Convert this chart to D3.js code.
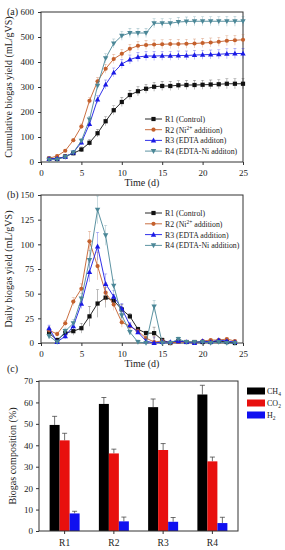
<!DOCTYPE html>
<html>
<head>
<meta charset="utf-8">
<script src="https://cdn.jsdelivr.net/npm/d3@7"></script>
<style>
  body { margin: 0; background: #fff; }
  svg text { font-family: "Liberation Serif", "DejaVu Serif", serif; fill: #222; }
</style>
</head>
<body>
<div id="root"></div>
<script>
// ---- data ----
const days = d3.range(1, 26);
const dailyDays = d3.range(1, 25);

const seriesNames = ["R1", "R2", "R3", "R4"];
const legendA = ["R1 (Control)", "R2 (Ni", "R3 (EDTA additon)", "R4 (EDTA-Ni additon)"];
const legendB = ["R1 (Control)", "R2 (Ni", "R3 (EDTA addition)", "R4 (EDTA-Ni addition)"];
const colors = ["#111111", "#c4602c", "#1a1ae6", "#4b8797"];
const symbols = ["square", "circle", "up", "down"];

// cumulative biogas yield (mL/gVS)
const cumR1 = [13, 12, 22, 35, 50, 77, 115, 163, 207, 240, 268, 283, 293, 301, 304, 304, 307, 308, 308, 309, 310, 311, 313, 313, 313];
const cumR2 = [15, 24, 45, 87, 142, 245, 323, 373, 412, 433, 453, 465, 468, 470, 471, 472, 472, 473, 474, 476, 478, 481, 485, 487, 489];
const cumR3 = [13, 14, 21, 38, 78, 152, 250, 310, 358, 392, 410, 420, 424, 424, 425, 425, 426, 426, 428, 429, 430, 431, 433, 434, 434];
const cumR4 = [9, 10, 20, 38, 85, 170, 305, 415, 474, 505, 516, 516, 516, 555, 555, 555, 560, 562, 563, 563, 563, 563, 563, 563, 563];
const cumErr = [5, 5, 6, 8, 10, 12, 15, 18, 18, 18, 18, 18, 18, 18, 18, 18, 18, 18, 18, 18, 18, 18, 20, 20, 20];

// daily biogas yield (mL/gVS)
const dayR1 = [10, 3, 10, 12, 15, 27, 40, 46, 43, 34, 27, 14, 10, 10, 3, 0, 2, 1, 1, 1, 1, 2, 1, 0];
const dayR2 = [13, 9, 20, 42, 55, 103, 78, 51, 39, 21, 17, 12, 5, 1, 2, 0, 1, 1, 0, 2, 3, 3, 4, 2];
const dayR3 = [15, 1, 7, 17, 40, 72, 98, 60, 47, 35, 18, 11, 2, 0, 1, 1, 2, 1, 0, 2, 1, 3, 2, 1];
const dayR4 = [7, 1, 12, 20, 45, 84, 135, 109, 58, 28, 11, 1, 0, 37, 0, 0, 4, 1, 1, 1, 0, 1, 0, 0];
const dayErr = [3, 2, 3, 4, 5, 10, 14, 10, 6, 5, 3, 2, 2, 6, 2, 1, 2, 1, 1, 1, 1, 1, 1, 1];

// biogas composition (%)
const reactors = ["R1", "R2", "R3", "R4"];
const gases = ["CH4", "CO2", "H2"];
const gasColors = ["#000000", "#e8100e", "#1010f0"];
const ch4 = [49.5, 59.3, 57.8, 63.7];
const ch4Err = [4.0, 3.0, 3.8, 4.3];
const co2 = [42.3, 36.2, 37.8, 32.5];
const co2Err = [3.3, 2.0, 3.0, 2.0];
const h2 = [8.2, 4.5, 4.3, 3.7];
const h2Err = [1.0, 2.0, 2.0, 2.7];

const W = 285, H = 550;
const svg = d3.select("#root").append("svg").attr("width", W).attr("height", H);

function frame(g, x, y) {
  const [x0, x1] = x.range(), [y0, y1] = y.range();
  g.append("rect").attr("x", x0).attr("y", y1).attr("width", x1 - x0).attr("height", y0 - y1)
    .attr("fill", "none").attr("stroke", "#333").attr("stroke-width", 1);
}

function marker(g, type, cx, cy, col) {
  const s = 2.1;
  if (type === "square") g.append("rect").attr("x", cx - s).attr("y", cy - s).attr("width", 2 * s).attr("height", 2 * s).attr("fill", col);
  else if (type === "circle") g.append("circle").attr("cx", cx).attr("cy", cy).attr("r", s).attr("fill", col);
  else if (type === "up") g.append("path").attr("d", `M${cx},${cy - 2.8}L${cx + 2.7},${cy + 2.1}L${cx - 2.7},${cy + 2.1}Z`).attr("fill", col);
  else g.append("path").attr("d", `M${cx},${cy + 2.8}L${cx + 2.7},${cy - 2.1}L${cx - 2.7},${cy - 2.1}Z`).attr("fill", col);
}

function lineAxes(g, x, y, yTicks, yTitle, tag) {
  g.append("g").attr("transform", `translate(0,${y.range()[0]})`)
    .call(d3.axisBottom(x).tickValues([0, 5, 10, 15, 20, 25]).tickSize(3).tickSizeOuter(0))
    .call(a => a.selectAll("text").attr("font-size", 9).attr("dy", "0.9em"));
  g.append("g").attr("transform", `translate(${x.range()[0]},0)`)
    .call(d3.axisLeft(y).tickValues(yTicks).tickSize(3).tickSizeOuter(0))
    .call(a => a.selectAll("text").attr("font-size", 9).attr("dx", "-0.1em"));
  g.selectAll(".domain").remove();
  g.selectAll(".tick line").attr("stroke", "#333");
  frame(g, x, y);
  const yMid = (y.range()[0] + y.range()[1]) / 2;
  g.append("text").attr("transform", `translate(12,${yMid}) rotate(-90)`).attr("text-anchor", "middle")
    .attr("font-size", 10).text(yTitle);
  g.append("text").attr("x", (x.range()[0] + x.range()[1]) / 2).attr("y", y.range()[0] + 24)
    .attr("text-anchor", "middle").attr("font-size", 10).text("Time (d)");
  g.append("text").attr("x", 7).attr("y", y.range()[1] + 3).attr("font-size", 10).text(tag);
}

function drawSeries(g, x, y, xs, ys, err, col, sym) {
  const line = d3.line().x((d, i) => x(xs[i])).y(d => y(d));
  g.append("g").selectAll("line").data(ys).join("line")
    .attr("x1", (d, i) => x(xs[i])).attr("x2", (d, i) => x(xs[i]))
    .attr("y1", (d, i) => y(d + err[i])).attr("y2", (d, i) => y(Math.max(0, d - err[i])))
    .attr("stroke", col).attr("stroke-width", 0.5).attr("opacity", 0.6);
  g.append("g").selectAll("line").data(ys).join("line")
    .attr("x1", (d, i) => x(xs[i]) - 1.5).attr("x2", (d, i) => x(xs[i]) + 1.5)
    .attr("y1", (d, i) => y(d + err[i])).attr("y2", (d, i) => y(d + err[i]))
    .attr("stroke", col).attr("stroke-width", 0.5).attr("opacity", 0.6);
  g.append("path").datum(ys).attr("d", line).attr("fill", "none").attr("stroke", col).attr("stroke-width", 0.9);
  ys.forEach((d, i) => marker(g, sym, x(xs[i]), y(d), col));
}

function legend(g, labels, x0, y0, dy) {
  labels.forEach((t, i) => {
    const yy = y0 + i * dy;
    g.append("line").attr("x1", x0).attr("x2", x0 + 17).attr("y1", yy).attr("y2", yy)
      .attr("stroke", colors[i]).attr("stroke-width", 0.9);
    marker(g, symbols[i], x0 + 8.5, yy, colors[i]);
    const tx = g.append("text").attr("x", x0 + 20).attr("y", yy + 3).attr("font-size", 7.8);
    if (i === 1) {
      tx.text(t);
      tx.append("tspan").attr("font-size", 5.5).attr("dy", -3).text("2+");
      tx.append("tspan").attr("dy", 3).text(" addition)");
    } else tx.text(t);
  });
}

// ---- panel (a) ----
const gA = svg.append("g");
const xA = d3.scaleLinear().domain([0, 25]).range([41, 243]);
const yA = d3.scaleLinear().domain([0, 600]).range([162, 12]);
lineAxes(gA, xA, yA, d3.range(0, 601, 100), "Cumulative biogas yield (mL/gVS)", "(a)");
[cumR1, cumR2, cumR3, cumR4].forEach((s, k) => drawSeries(gA, xA, yA, days, s, cumErr, colors[k], symbols[k]));
legend(gA, legendA, 145, 119, 10.7);

// ---- panel (b) ----
const gB = svg.append("g");
const xB = d3.scaleLinear().domain([0, 25]).range([41, 243]);
const yB = d3.scaleLinear().domain([0, 150]).range([343, 195]);
lineAxes(gB, xB, yB, d3.range(0, 151, 25), "Daily biogas yield (mL/gVS)", "(b)");
[dayR1, dayR2, dayR3, dayR4].forEach((s, k) => drawSeries(gB, xB, yB, dailyDays, s, dayErr, colors[k], symbols[k]));
legend(gB, legendB, 145, 213, 10.8);

// ---- panel (c) ----
const gC = svg.append("g");
const xC = d3.scaleBand().domain(reactors).range([39, 238]).paddingInner(0).paddingOuter(0.02);
const xSub = d3.scaleBand().domain(gases).range([0, 30]);
const yC = d3.scaleLinear().domain([0, 70]).range([531, 381]);
const vals = [ch4, co2, h2], errs = [ch4Err, co2Err, h2Err];

gC.append("g").attr("transform", `translate(0,531)`)
  .call(d3.axisBottom(xC).tickSize(3).tickSizeOuter(0))
  .call(a => a.selectAll("text").attr("font-size", 9.5).attr("dy", "0.9em"));
gC.append("g").attr("transform", `translate(39,0)`)
  .call(d3.axisLeft(yC).tickValues(d3.range(0, 71, 10)).tickSize(3).tickSizeOuter(0))
  .call(a => a.selectAll("text").attr("font-size", 9));
gC.selectAll(".domain").remove();
gC.selectAll(".tick line").attr("stroke", "#333");

gases.forEach((gname, k) => {
  reactors.forEach((r, i) => {
    const bx = xC(r) + xC.bandwidth() / 2 - 15 + xSub(gname);
    const v = vals[k][i], e = errs[k][i];
    gC.append("line").attr("x1", bx + xSub.bandwidth() / 2).attr("x2", bx + xSub.bandwidth() / 2)
      .attr("y1", yC(v + e)).attr("y2", yC(v)).attr("stroke", "#333").attr("stroke-width", 0.7);
    gC.append("line").attr("x1", bx + xSub.bandwidth() / 2 - 2.5).attr("x2", bx + xSub.bandwidth() / 2 + 2.5)
      .attr("y1", yC(v + e)).attr("y2", yC(v + e)).attr("stroke", "#333").attr("stroke-width", 0.7);
    gC.append("rect").attr("x", bx).attr("y", yC(v)).attr("width", xSub.bandwidth()).attr("height", yC(0) - yC(v))
      .attr("fill", gasColors[k]);
  });
});
frame(gC, xC, yC);
gC.append("text").attr("transform", `translate(16,456) rotate(-90)`).attr("text-anchor", "middle")
  .attr("font-size", 10).text("Biogas composition (%)");
gC.append("text").attr("x", 7).attr("y", 372).attr("font-size", 10).text("(c)");

const gasLabels = [["CH", "4"], ["CO", "2"], ["H", "2"]];
gasLabels.forEach((lb, k) => {
  const yy = 391 + k * 12;
  gC.append("rect").attr("x", 247).attr("y", yy - 3.5).attr("width", 18).attr("height", 7).attr("fill", gasColors[k]);
  const t = gC.append("text").attr("x", 267).attr("y", yy + 3).attr("font-size", 8).text(lb[0]);
  t.append("tspan").attr("font-size", 5.5).attr("dy", 2).text(lb[1]);
});
</script>
</body>
</html>
